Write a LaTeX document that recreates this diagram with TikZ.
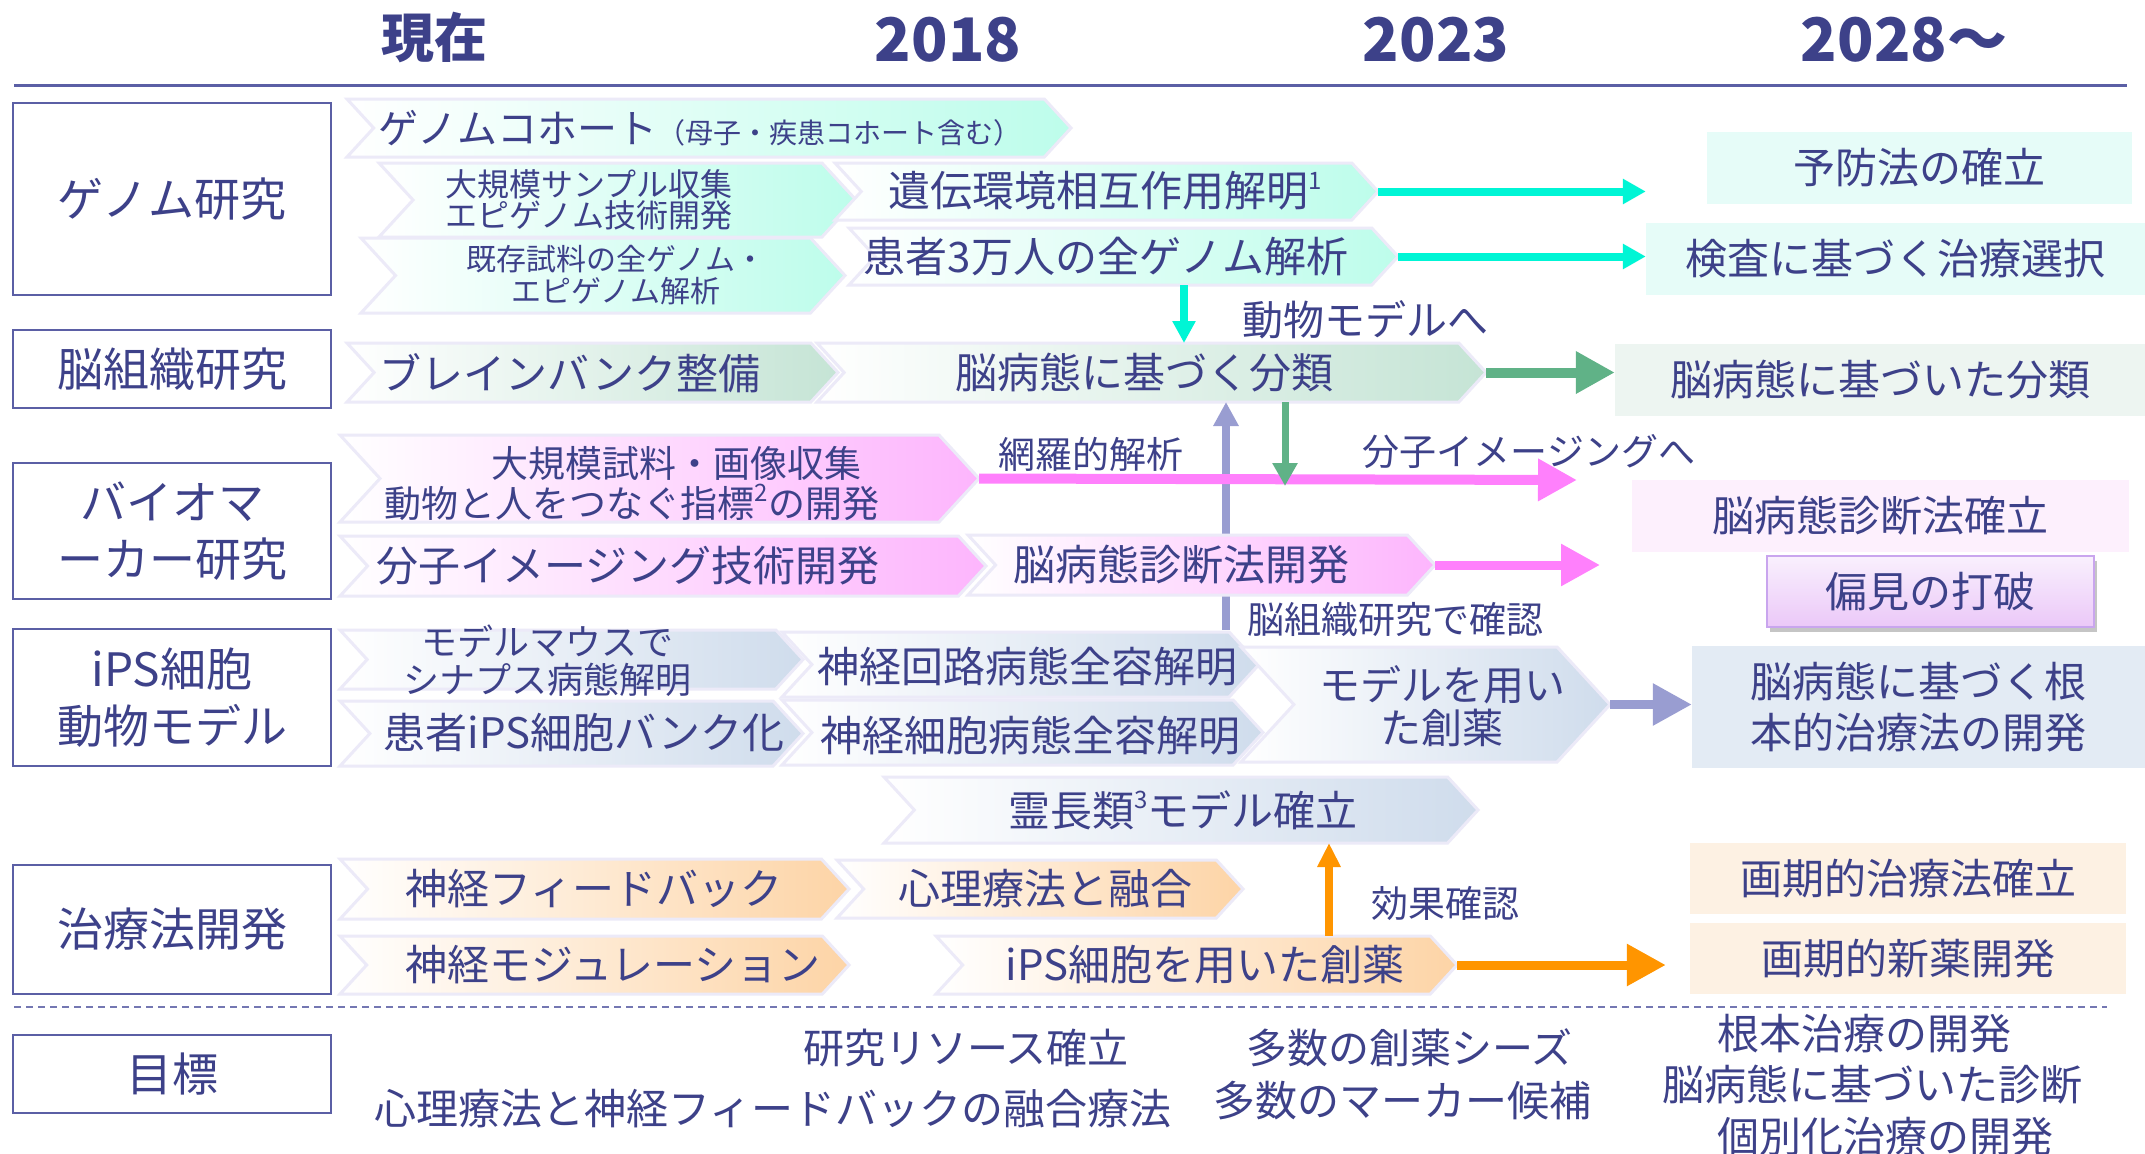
\documentclass[tikz,border=0pt]{standalone}
\usepackage{fontspec}
\setmainfont{Noto Sans CJK JP}
\usetikzlibrary{arrows.meta,shadows}
\definecolor{txt}{HTML}{3D4189}
\definecolor{catline}{HTML}{5B5FA5}
\definecolor{chevline}{HTML}{ECEAF8}
\definecolor{cgen}{HTML}{BDFDEB}
\definecolor{cbrain}{HTML}{C5E4D5}
\definecolor{cbio}{HTML}{FDB5FD}
\definecolor{cips}{HTML}{CFDCEC}
\definecolor{cther}{HTML}{FDD4A6}
\definecolor{ogen}{HTML}{E6FCF8}
\definecolor{obrain}{HTML}{EDF5F1}
\definecolor{obio}{HTML}{FDF0FD}
\definecolor{oips}{HTML}{E3EBF4}
\definecolor{other}{HTML}{FDF1E3}
\definecolor{acyan}{HTML}{00F5D5}
\definecolor{agreen}{HTML}{60B287}
\definecolor{apink}{HTML}{FF80FC}
\definecolor{alav}{HTML}{999DD1}
\definecolor{aorange}{HTML}{FF9500}
\definecolor{biasline}{HTML}{C9A5EE}
\definecolor{biastop}{HTML}{F9F0FD}
\definecolor{biasbot}{HTML}{EBC8F8}
\newcommand\myfs[2]{\fontsize{#1pt}{#2pt}\selectfont}
\newcommand\mysup[1]{\raisebox{0.42em}{\myfs{24}{24}#1}}
\tikzset{
  chevbox/.style={draw=chevline, line width=3pt, left color=white},
  chevtxt/.style={text=txt, inner sep=0pt, font=\myfs{42}{44}, align=center},
  catbox/.style={draw=catline, line width=2.5pt, fill=white, text=txt, minimum width=318pt, inner sep=0pt, font=\myfs{46}{57}, align=center},
  outbox/.style={text=txt, inner sep=0pt, font=\myfs{42}{51}, align=center},
  hdr/.style={text=txt, inner sep=0pt, font=\bfseries\myfs{60}{60}},
  lbl/.style={text=txt, inner sep=0pt, font=\myfs{37}{40}},
  goal/.style={text=txt, inner sep=0pt, font=\myfs{42}{44}},
  arrbig/.style={line width=9pt, -{Triangle[length=39pt,width=40pt]}},
}
% \chev[node options]{name}{x left}{x tip}{y top}{y bottom}{colour}{text x,text y}{text}
\newcommand\chev[8][]{%
  \pgfmathsetmacro\chH{#6-#5}%
  \pgfmathsetmacro\chD{0.46*\chH}%
  \pgfmathsetmacro\chY{(#5+#6)/2}%
  \path[chevbox,right color=#7] (#3,#5) -- ({#4-\chD},#5) -- (#4,\chY) -- ({#4-\chD},#6) -- (#3,#6) -- ({#3+\chD},\chY) -- cycle;%
  \coordinate (#2-tip) at (#4,\chY);%
  \node[chevtxt,#1] (#2) at (#8) {\chevtext};%
}
\begin{document}
\begin{tikzpicture}[x=1pt,y=-1pt]
\useasboundingbox (0,0) rectangle (2145,1154);
\fill[white] (0,0) rectangle (2145,1154);

% header
\node[hdr] (h0) at (434,38) {\myfs{53}{53}現在};
\node[hdr] (h1) at (948,40) {2018};
\node[hdr] (h2) at (1436,40) {2023};
\node[hdr] (h3) at (1904,40) {2028〜};
\coordinate (hl0) at (14,85);
\coordinate (hl1) at (2127,85);
\draw[catline, line width=3pt] (hl0) -- (hl1);

% categories
\node[catbox, minimum height=192pt] (c1) at (172,199) {ゲノム研究};
\node[catbox, minimum height=78pt] (c2) at (172,369) {脳組織研究};
\node[catbox, minimum height=136pt] (c3) at (172,531) {バイオマ\\ーカー研究};
\node[catbox, minimum height=137pt] (c4) at (172,697.5) {iPS細胞\\動物モデル};
\node[catbox, minimum height=129pt] (c5) at (172,929.5) {治療法開発};
\node[catbox, minimum height=78pt] (c6) at (172,1074) {目標};

% outcome boxes
\node[outbox, fill=ogen, minimum width=425pt, minimum height=72pt] (o1) at (1919.5,168) {予防法の確立};
\node[outbox, fill=ogen, minimum width=499pt, minimum height=72pt] (o2) at (1895.5,259) {検査に基づく治療選択};
\node[outbox, fill=obrain, minimum width=530pt, minimum height=72pt] (o3) at (1880,380) {脳病態に基づいた分類};
\node[outbox, fill=obio, minimum width=497pt, minimum height=72pt] (o4) at (1880.5,516) {脳病態診断法確立};
\node[outbox, draw=biasline, line width=2pt, top color=biastop, bottom color=biasbot, drop shadow={shadow xshift=3pt, shadow yshift=-5pt, fill=black!45, opacity=0.5}, minimum width=327pt, minimum height=71pt] (o5) at (1930.5,591.5) {偏見の打破};
\node[outbox, fill=oips, minimum width=453pt, minimum height=122pt] (o6) at (1918.5,707) {脳病態に基づく根\\本的治療法の開発};
\node[outbox, fill=other, minimum width=436pt, minimum height=71pt] (o7) at (1908,878.5) {画期的治療法確立};
\node[outbox, fill=other, minimum width=436pt, minimum height=71pt] (o8) at (1908,958.5) {画期的新薬開発};

% genome row
\def\chevtext{ゲノムコホート{\myfs{28}{30}（母子・疾患コホート含む）}}
\chev[font=\myfs{40}{44}]{A}{347}{1071}{99}{157}{cgen}{700,128}
\def\chevtext{大規模サンプル収集\\エピゲノム技術開発}
\chev[font=\myfs{32}{31}]{B}{379}{856}{163}{237}{cgen}{589,200}
\def\chevtext{既存試料の全ゲノム・\\エピゲノム解析}
\chev[font=\myfs{30}{32}]{C}{361}{845}{238}{313}{cgen}{616,275}
\def\chevtext{遺伝環境相互作用解明\mysup{1}}
\chev{D}{835}{1378}{163}{220}{cgen}{1105,191}
\def\chevtext{患者3万人の全ゲノム解析}
\chev{E}{849}{1398}{228}{285}{cgen}{1106,257}

% brain row
\def\chevtext{ブレインバンク整備}
\chev{F}{347}{838}{343}{402}{cbrain}{570,373}
\def\chevtext{脳病態に基づく分類}
\chev{G}{817}{1486}{343}{402}{cbrain}{1144,373}

% vertical lavender connector (behind J)
\coordinate (lavb) at (1226,630);
\coordinate (lavt) at (1226,402);
\draw[alav, line width=8pt, -{Triangle[length=24pt,width=24pt]}] (lavb) -- (lavt);

% biomarker row
\def\chevtext{\hspace*{88pt}大規模試料・画像収集\\動物と人をつなぐ指標\mysup{2}の開発}
\chev[font=\myfs{37}{40}]{H}{340}{979}{435}{522}{cbio}{632,483}
\def\chevtext{分子イメージング技術開発}
\chev{I}{340}{986}{536}{596}{cbio}{628,566}
\def\chevtext{脳病態診断法開発}
\chev{J}{968}{1435}{535}{595}{cbio}{1181,565}

% iPS row
\def\chevtext{モデルマウスで\\シナプス病態解明}
\chev[font=\myfs{36}{38}]{K}{340}{803}{630}{689}{cips}{547,661}
\def\chevtext{患者iPS細胞バンク化}
\chev{L}{340}{803}{701}{766}{cips}{584,733}
\def\chevtext{神経回路病態全容解明}
\chev{M}{782}{1259}{632}{697}{cips}{1027,667}
\def\chevtext{神経細胞病態全容解明}
\chev{N}{782}{1263}{700}{765}{cips}{1030,736}
\def\chevtext{モデルを用い\\た創薬}
\chev[font=\myfs{41}{43}]{O}{1241}{1610}{647}{762}{cips}{1442,706}
\def\chevtext{霊長類\mysup{3}モデル確立}
\chev{P}{884}{1478}{777}{843}{cips}{1183,810}

% therapy row
\def\chevtext{神経フィードバック}
\chev{Q}{340}{849}{859}{919}{cther}{594,889}
\def\chevtext{心理療法と融合}
\chev{R}{837}{1243}{860}{918}{cther}{1045,889}
\def\chevtext{神経モジュレーション}
\chev{S}{340}{849}{936}{994}{cther}{613,965}
\def\chevtext{iPS細胞を用いた創薬}
\chev{T}{936}{1457}{936}{994}{cther}{1205,965}

% arrows
\draw[acyan, line width=8pt, -{Triangle[length=23pt,width=24pt]}, shorten >=61pt] (D-tip) -- (D-tip -| o1.west);
\draw[acyan, line width=8pt, -{Triangle[length=23pt,width=24pt]}] (E-tip) -- (E-tip -| o2.west);
\coordinate (Eb) at (1184,285);
\coordinate (Gt) at (1184,343);
\draw[acyan, line width=8pt, -{Triangle[length=22pt,width=22pt]}] (Eb) -- (Gt);
\draw[agreen, arrbig, line width=10pt] (G-tip) -- (G-tip -| o3.west);
\coordinate (pk1) at (1577,480);
\draw[apink, arrbig, line width=10pt] (H-tip) -- (pk1);
\coordinate (gb) at (1285,402);
\coordinate (gd) at (1285,486);
\draw[agreen, line width=7pt, -{Triangle[length=23pt,width=24pt]}] (gb) -- (gd);
\coordinate (pk2) at (1600,565);
\draw[apink, arrbig] (J-tip) -- (pk2);
\draw[alav, arrbig] (O-tip) -- (O-tip -| o6.west);
\coordinate (ob) at (1329,936);
\coordinate (ot) at (1329,843);
\draw[aorange, line width=8pt, -{Triangle[length=24pt,width=22pt]}] (ob) -- (ot);
\draw[aorange, arrbig, shorten >=24pt] (T-tip) -- (T-tip -| o8.west);

% labels
\node[lbl, font=\myfs{41}{44}] (l1) at (1365,320) {動物モデルへ};
\node[lbl] (l2) at (1091,454) {網羅的解析};
\node[lbl] (l3) at (1529,452) {分子イメージングへ};
\node[lbl] (l4) at (1395,620) {脳組織研究で確認};
\node[lbl] (l5) at (1445,903) {効果確認};

% divider
\coordinate (dv0) at (14,1007);
\coordinate (dv1) at (2107,1007);
\draw[catline!85, line width=2.5pt, dash pattern=on 7pt off 5pt] (dv0) -- (dv1);

% goals
\node[goal, font=\myfs{41}{44}] (g1) at (966,1048) {研究リソース確立};
\node[goal] (g2) at (773,1109) {心理療法と神経フィードバックの融合療法};
\node[goal, font=\myfs{41}{44}] (g3) at (1409,1048) {多数の創薬シーズ};
\node[goal] (g4) at (1402,1101) {多数のマーカー候補};
\node[goal] (g5) at (1864,1034) {根本治療の開発};
\node[goal] (g6) at (1872,1085) {脳病態に基づいた診断};
\node[goal] (g7) at (1885,1137) {個別化治療の開発};
\end{tikzpicture}
\end{document}
